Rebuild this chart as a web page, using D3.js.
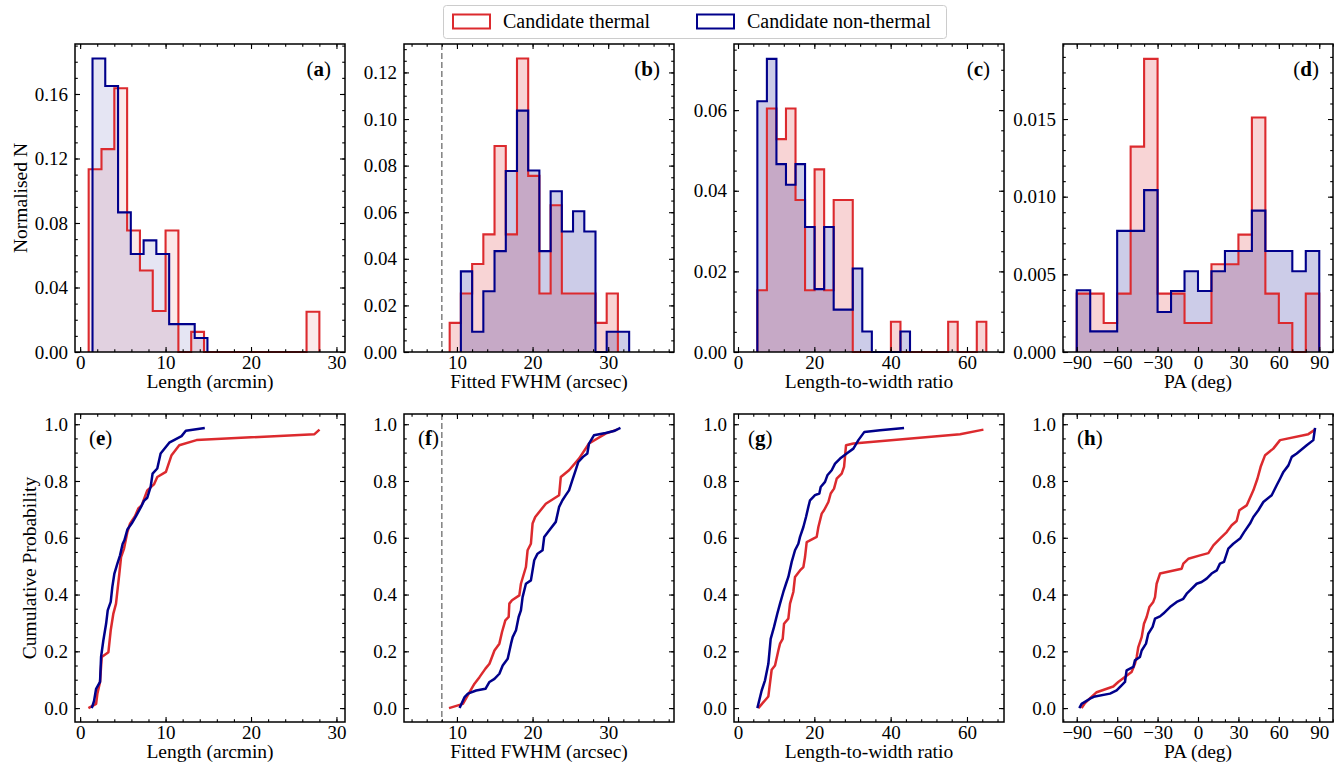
<!DOCTYPE html>
<html><head><meta charset="utf-8">
<script src="https://cdn.jsdelivr.net/npm/d3@7"></script>
<style>
body{margin:0;background:#fff;}
svg{display:block;font-family:"Liberation Serif","Times New Roman",serif;}
</style></head><body>
<svg id="chart" width="1334" height="768"></svg>
<script>
// ---------------- DATA ----------------
const seriesNames = ["Candidate thermal", "Candidate non-thermal"];

// (a) Length histograms (normalised density)
const lengthRedEdges  = [1,2.5,4,5.5,7,8.5,10,11.5,13,14.5,16,17.5,19,20.5,22,23.5,25,26.5,28];
const lengthRedHeights = [0.1133,0.1258,0.1636,0.0753,0.0505,0.0254,0.0753,0,0.0125,0,0,0,0,0,0,0,0,0.0250];
const lengthBlueEdges = [1.45,2.94,4.44,5.93,7.43,8.92,10.42,11.91,13.41,14.9];
const lengthBlueHeights = [0.1820,0.1650,0.0866,0.0608,0.0692,0.0608,0.0173,0.0173,0.0087];

// (b) Fitted FWHM histograms
const fwhmRedEdges  = [9.04,10.52,12.01,13.49,14.97,16.46,17.94,19.42,20.90,22.39,23.87,25.35,26.84,28.32,29.80,31.28];
const fwhmRedHeights = [0.0125,0.0251,0.0378,0.0505,0.0884,0.0505,0.1260,0.0756,0.0251,0.0630,0.0251,0.0251,0.0251,0.0125,0.0251];
const fwhmBlueEdges = [10.52,12.01,13.49,14.97,16.46,17.94,19.42,20.90,22.39,23.87,25.35,26.84,28.32,29.80,31.28,32.77];
const fwhmBlueHeights = [0.0346,0.0087,0.0261,0.0433,0.0777,0.1036,0.0779,0.0433,0.0690,0.0517,0.0604,0.0517,0,0.0087,0.0087];

// (c) Length-to-width ratio histograms
const ratioRedEdges = [5.07,7.57,10.07,12.57,15.07,17.57,20.07,22.57,25.07,27.57,30.07,32.57,35.07,37.57,40.07,42.57,45.07,47.57,50.07,52.57,55.07,57.57,60.07,62.57,65.07];
const ratioRedHeights = [0.0153,0.0604,0.0528,0.0604,0.0377,0.0153,0.0453,0.0153,0.0377,0.0377,0,0,0,0,0.0075,0,0,0,0,0,0.0075,0,0,0.0075];
const ratioBlueEdges = [5.07,7.57,10.07,12.57,15.07,17.57,20.07,22.57,25.07,27.57,30.07,32.57,35.07,37.57,40.07,42.57,45.07];
const ratioBlueHeights = [0.0622,0.0727,0.0466,0.0415,0.0466,0.0310,0.0156,0.0310,0.0105,0.0105,0.0207,0.0051,0,0,0,0.0051];

// (d) PA histograms
const paEdges = [-90,-80,-70,-60,-50,-40,-30,-20,-10,0,10,20,30,40,50,60,70,80,90];
const paRedHeights  = [0.00376,0.00376,0.00187,0.00376,0.01322,0.01887,0.00376,0.00376,0.00187,0.00187,0.00565,0.00565,0.00756,0.01510,0.00376,0.00187,0,0.00376];
const paBlueHeights = [0.00398,0.00133,0.00133,0.00780,0.00780,0.01042,0.00258,0.00393,0.00520,0.00393,0.00520,0.00650,0.00650,0.00910,0.00650,0.00650,0.00520,0.00650];

// (e)-(h) cumulative distributions, [value, cumulative probability]
const lengthCdfRed = [[0.97,0],[1.87,0.015],[2.02,0.051],[2.33,0.092],[2.53,0.180],[3.31,0.197],[3.58,0.274],[3.89,0.333],[4.20,0.368],[4.59,0.474],[4.79,0.532],[5.14,0.562],[5.53,0.620],[5.84,0.650],[6.42,0.676],[6.81,0.703],[7.20,0.714],[7.86,0.767],[8.64,0.788],[9.03,0.814],[10.04,0.832],[10.70,0.891],[11.60,0.926],[13.62,0.944],[27.43,0.965],[28.02,0.981]];
const lengthCdfBlue = [[1.36,0],[1.63,0.025],[1.87,0.068],[2.33,0.092],[2.45,0.180],[2.72,0.239],[3.04,0.297],[3.23,0.344],[3.58,0.374],[3.77,0.427],[4.01,0.474],[4.36,0.509],[4.67,0.538],[4.98,0.579],[5.18,0.591],[5.53,0.629],[6.03,0.650],[6.54,0.676],[7.08,0.706],[7.47,0.730],[7.86,0.741],[8.25,0.779],[8.48,0.826],[9.03,0.844],[9.42,0.897],[10.43,0.935],[11.87,0.958],[12.37,0.977],[14.59,0.987]];
const fwhmCdfRed = [[8.95,0],[10.79,0.015],[11.67,0.056],[12.32,0.086],[12.98,0.109],[13.77,0.139],[14.30,0.156],[14.96,0.203],[15.61,0.227],[15.96,0.268],[16.40,0.309],[16.84,0.321],[16.93,0.368],[17.28,0.380],[18.25,0.397],[18.46,0.438],[19.12,0.497],[19.34,0.556],[19.78,0.579],[20.0,0.650],[20.35,0.673],[21.75,0.720],[23.51,0.750],[23.73,0.814],[24.82,0.838],[26.14,0.879],[27.46,0.932],[29.65,0.967],[31.18,0.981]];
const fwhmCdfBlue = [[10.35,0],[11.01,0.039],[11.45,0.051],[12.54,0.062],[13.77,0.068],[14.30,0.092],[14.96,0.103],[15.61,0.121],[16.05,0.150],[16.71,0.174],[17.15,0.227],[17.37,0.250],[17.81,0.274],[18.16,0.321],[18.46,0.344],[18.68,0.391],[19.12,0.438],[19.78,0.450],[20.22,0.521],[20.66,0.544],[21.32,0.556],[21.54,0.603],[22.19,0.626],[23.07,0.656],[23.51,0.709],[23.95,0.732],[24.39,0.750],[24.82,0.767],[25.26,0.803],[25.70,0.838],[26.05,0.867],[26.67,0.885],[27.24,0.897],[27.46,0.932],[28.11,0.961],[29.65,0.969],[30.75,0.976],[31.62,0.987]];
const ratioCdfRed = [[5.33,0],[7.95,0.041],[8.82,0.135],[9.70,0.150],[10.57,0.203],[11.01,0.227],[11.71,0.244],[12.06,0.297],[13.19,0.315],[13.63,0.368],[14.50,0.409],[14.94,0.462],[16.25,0.485],[17.13,0.497],[17.56,0.532],[18.0,0.585],[20.62,0.603],[21.06,0.638],[21.93,0.685],[22.54,0.697],[23.68,0.726],[24.29,0.756],[25.16,0.773],[25.86,0.808],[27.17,0.826],[27.79,0.850],[28.31,0.926],[30.23,0.932],[58.19,0.965],[64.31,0.981]];
const ratioCdfBlue = [[5.07,0],[6.20,0.062],[7.08,0.098],[7.95,0.156],[8.56,0.244],[9.44,0.286],[10.31,0.333],[11.01,0.368],[11.88,0.409],[12.58,0.438],[13.19,0.462],[14.07,0.515],[14.94,0.556],[15.81,0.579],[16.25,0.603],[17.13,0.638],[17.82,0.673],[18.44,0.709],[18.87,0.732],[20.18,0.750],[21.32,0.756],[21.67,0.779],[22.80,0.797],[23.42,0.820],[24.55,0.838],[25.43,0.861],[26.74,0.879],[28.48,0.897],[30.23,0.914],[31.54,0.944],[33.12,0.973],[37.22,0.979],[43.51,0.987]];
const paCdfRed = [[-86.4,0],[-83.9,0.018],[-75.2,0.056],[-62.9,0.076],[-59.2,0.092],[-49.3,0.127],[-46.8,0.156],[-45.5,0.180],[-44.3,0.215],[-41.8,0.250],[-40.1,0.297],[-38.1,0.321],[-36.1,0.356],[-33.2,0.374],[-31.9,0.391],[-30.7,0.438],[-28.2,0.474],[-12.1,0.491],[-10.9,0.509],[-7.2,0.526],[1.5,0.538],[7.7,0.546],[11.4,0.573],[16.3,0.597],[21.3,0.620],[25.0,0.644],[28.7,0.659],[30.7,0.697],[36.1,0.714],[41.1,0.767],[44.1,0.808],[46.5,0.850],[49.8,0.891],[55.9,0.914],[60.9,0.944],[81.9,0.965],[86.9,0.981]];
const paCdfBlue = [[-88.1,0],[-86.4,0.015],[-80.2,0.033],[-76.5,0.041],[-65.3,0.051],[-60.4,0.062],[-56.7,0.080],[-54.2,0.092],[-53.0,0.133],[-48.0,0.145],[-46.8,0.168],[-43.1,0.180],[-41.8,0.203],[-38.6,0.227],[-36.9,0.262],[-33.7,0.286],[-31.9,0.315],[-28.2,0.323],[-25.7,0.333],[-20.8,0.356],[-15.8,0.374],[-10.9,0.385],[-8.4,0.403],[-5.9,0.415],[-1.0,0.438],[2.7,0.444],[6.4,0.456],[10.1,0.474],[13.9,0.485],[16.3,0.509],[19.3,0.515],[21.3,0.544],[22.5,0.562],[26.2,0.579],[31.2,0.597],[34.2,0.620],[38.6,0.650],[41.1,0.673],[44.8,0.697],[48.5,0.726],[54.7,0.750],[58.4,0.785],[60.9,0.808],[63.4,0.832],[67.1,0.855],[69.6,0.885],[73.3,0.897],[80.7,0.926],[85.6,0.944],[86.9,0.987]];

// Tick values / labels
const lengthTicks = [0,10,20,30];
const fwhmTicks = [10,20,30];
const ratioTicks = [0,20,40,60];
const paTicks = [-90,-60,-30,0,30,60,90];
const histYTicks = [[0,0.04,0.08,0.12,0.16],[0,0.02,0.04,0.06,0.08,0.10,0.12],[0,0.02,0.04,0.06],[0,0.005,0.010,0.015]];
const cdfYTicks = [0,0.2,0.4,0.6,0.8,1.0];
const xLabels = ["Length (arcmin)","Fitted FWHM (arcsec)","Length-to-width ratio","PA (deg)"];
const histLetters = ["a","b","c","d"];
const cdfLetters = ["e","f","g","h"];
const yLabelTop = "Normalised N";
const yLabelBottom = "Cumulative Probability";
const beamFWHM = 8;

// ---------------- LAYOUT / STYLE ----------------
const RED = "#dc2a2e", BLUE = "#00008b";
const colLeft = [75,404,734,1063], PW = 270, PH = 308;
const rowTop = [44,414];
const cols = [
  {xDomain:[-0.6,31.0], ticks:lengthTicks, minorStep:2, fmt:d3.format("d"), hist:[lengthRedEdges,lengthRedHeights,lengthBlueEdges,lengthBlueHeights], cdf:[lengthCdfRed,lengthCdfBlue], yMax:0.191, yMinor:0.01, yFmt:d3.format(".2f"), alpha:0.1},
  {xDomain:[3.0,38.7], ticks:fwhmTicks, minorStep:2, fmt:d3.format("d"), hist:[fwhmRedEdges,fwhmRedHeights,fwhmBlueEdges,fwhmBlueHeights], cdf:[fwhmCdfRed,fwhmCdfBlue], yMax:0.1322, yMinor:0.005, yFmt:d3.format(".2f"), alpha:0.2, beam:true},
  {xDomain:[-1.05,69.7], ticks:ratioTicks, minorStep:4, fmt:d3.format("d"), hist:[ratioRedEdges,ratioRedHeights,ratioBlueEdges,ratioBlueHeights], cdf:[ratioCdfRed,ratioCdfBlue], yMax:0.0764, yMinor:0.005, yFmt:d3.format(".2f"), alpha:0.2},
  {xDomain:[-100.2,100.2], ticks:paTicks, minorStep:10, fmt:d3.format("d"), hist:[paEdges,paRedHeights,paEdges,paBlueHeights], cdf:[paCdfRed,paCdfBlue], yMax:0.01983, yMinor:0.001, yFmt:d3.format(".3f"), alpha:0.2}
];

const svg = d3.select("#chart");
const TICKFS = 19, LABFS = 19.5, LETFS = 21;

function minorTicks(domain, step){
  const out=[]; const s=Math.ceil(domain[0]/step-1e-9);
  for(let k=s; k*step<=domain[1]+1e-9; k++){ out.push(+(k*step).toFixed(6)); }
  return out;
}
function stepPts(edges, h){
  const p=[[edges[0],0]];
  h.forEach((v,i)=>{p.push([edges[i],v]); p.push([edges[i+1],v]);});
  p.push([edges[edges.length-1],0]);
  return p;
}

function drawAxes(g, x, y, xTicks, xMinorStep, xFmt, yTicks, yMinorStep, yFmt){
  const xd=x.domain(), yd=y.domain();
  const xm=minorTicks(xd,xMinorStep), ym=minorTicks(yd,yMinorStep);
  const style=(sel)=>{sel.select(".domain").remove(); sel.selectAll(".tick line").attr("stroke","#000").attr("stroke-width",1.1); sel.selectAll("text").attr("font-size",TICKFS).attr("fill","#000").attr("font-family","Liberation Serif, serif");};
  g.append("g").attr("transform",`translate(0,${PH})`).call(d3.axisBottom(x).tickValues(xTicks).tickFormat(xFmt).tickSize(-5).tickPadding(3.8)).call(style);
  g.append("g").attr("transform",`translate(0,${PH})`).call(d3.axisBottom(x).tickValues(xm).tickFormat("").tickSize(-2.8)).call(style);
  g.append("g").call(d3.axisTop(x).tickValues(xTicks).tickFormat("").tickSize(-5)).call(style);
  g.append("g").call(d3.axisTop(x).tickValues(xm).tickFormat("").tickSize(-2.8)).call(style);
  g.append("g").call(d3.axisLeft(y).tickValues(yTicks).tickFormat(yFmt).tickSize(-5).tickPadding(7)).call(style);
  g.append("g").call(d3.axisLeft(y).tickValues(ym).tickFormat("").tickSize(-2.8)).call(style);
  g.append("g").attr("transform",`translate(${PW},0)`).call(d3.axisRight(y).tickValues(yTicks).tickFormat("").tickSize(-5)).call(style);
  g.append("g").attr("transform",`translate(${PW},0)`).call(d3.axisRight(y).tickValues(ym).tickFormat("").tickSize(-2.8)).call(style);
  g.append("rect").attr("x",0).attr("y",0).attr("width",PW).attr("height",PH).attr("fill","none").attr("stroke","#000").attr("stroke-width",1.5);
}

function panelLabel(g, letter, x, y, anchor){
  const t=g.append("text").attr("x",x).attr("y",y).attr("text-anchor",anchor).attr("font-size",LETFS).attr("fill","#000");
  t.append("tspan").text("(");
  t.append("tspan").attr("font-weight","bold").text(letter);
  t.append("tspan").text(")");
}

cols.forEach((c,i)=>{
  const x=d3.scaleLinear().domain(c.xDomain).range([0,PW]);
  // ---- top: histograms ----
  const gT=svg.append("g").attr("transform",`translate(${colLeft[i]},${rowTop[0]})`);
  const yT=d3.scaleLinear().domain([0,c.yMax]).range([PH,0]);
  const area=d3.area().x(d=>x(d[0])).y0(yT(0)).y1(d=>yT(d[1]));
  const line=d3.line().x(d=>x(d[0])).y(d=>yT(d[1]));
  const [re,rh,be,bh]=c.hist;
  const rp=stepPts(re,rh), bp=stepPts(be,bh);
  gT.append("path").attr("d",area(rp)).attr("fill",RED).attr("fill-opacity",c.alpha);
  gT.append("path").attr("d",area(bp)).attr("fill",BLUE).attr("fill-opacity",c.alpha);
  gT.append("path").attr("d",line(rp)).attr("fill","none").attr("stroke",RED).attr("stroke-width",2.1).attr("stroke-linejoin","miter");
  gT.append("path").attr("d",line(bp)).attr("fill","none").attr("stroke",BLUE).attr("stroke-width",2.1).attr("stroke-linejoin","miter");
  if(c.beam){
    gT.append("line").attr("x1",x(beamFWHM)).attr("x2",x(beamFWHM)).attr("y1",0).attr("y2",PH).attr("stroke","#808080").attr("stroke-width",1.5).attr("stroke-dasharray","6,3");
  }
  drawAxes(gT,x,yT,c.ticks,c.minorStep,c.fmt,histYTicks[i],c.yMinor,c.yFmt);
  panelLabel(gT,histLetters[i],PW-14,32,"end");
  gT.append("text").attr("x",PW/2).attr("y",PH+36).attr("text-anchor","middle").attr("font-size",LABFS).text(xLabels[i]);

  // ---- bottom: CDFs ----
  const gB=svg.append("g").attr("transform",`translate(${colLeft[i]},${rowTop[1]})`);
  const yB=d3.scaleLinear().domain([-0.049,1.036]).range([PH,0]);
  const cl=d3.line().x(d=>x(d[0])).y(d=>yB(d[1]));
  if(c.beam){
    gB.append("line").attr("x1",x(beamFWHM)).attr("x2",x(beamFWHM)).attr("y1",0).attr("y2",PH).attr("stroke","#808080").attr("stroke-width",1.5).attr("stroke-dasharray","6,3");
  }
  gB.append("path").attr("d",cl(c.cdf[0])).attr("fill","none").attr("stroke",RED).attr("stroke-width",2.5).attr("stroke-linejoin","round").attr("stroke-linecap","butt");
  gB.append("path").attr("d",cl(c.cdf[1])).attr("fill","none").attr("stroke",BLUE).attr("stroke-width",2.5).attr("stroke-linejoin","round").attr("stroke-linecap","butt");
  drawAxes(gB,x,yB,c.ticks,c.minorStep,c.fmt,cdfYTicks,0.05,d3.format(".1f"));
  panelLabel(gB,cdfLetters[i],14,31,"start");
  gB.append("text").attr("x",PW/2).attr("y",PH+36).attr("text-anchor","middle").attr("font-size",LABFS).text(xLabels[i]);
});

// y labels
svg.append("text").attr("transform",`translate(27,${rowTop[0]+PH/2}) rotate(-90)`).attr("text-anchor","middle").attr("font-size",LABFS).text(yLabelTop);
svg.append("text").attr("transform",`translate(36,${rowTop[1]+PH/2}) rotate(-90)`).attr("text-anchor","middle").attr("font-size",LABFS).text(yLabelBottom);

// legend
const lg=svg.append("g");
lg.append("rect").attr("x",443.5).attr("y",5.5).attr("width",503).attr("height",33).attr("rx",3).attr("fill","#fff").attr("stroke","#cccccc").attr("stroke-width",1);
const legendItems=[{name:seriesNames[0],color:RED,px:453,tx:503},{name:seriesNames[1],color:BLUE,px:697,tx:747}];
legendItems.forEach(it=>{
  lg.append("rect").attr("x",it.px).attr("y",14.5).attr("width",37).attr("height",14).attr("fill","#fff").attr("stroke",it.color).attr("stroke-width",2);
  lg.append("text").attr("x",it.tx).attr("y",28).attr("font-size",20).text(it.name);
});
</script></body></html>
